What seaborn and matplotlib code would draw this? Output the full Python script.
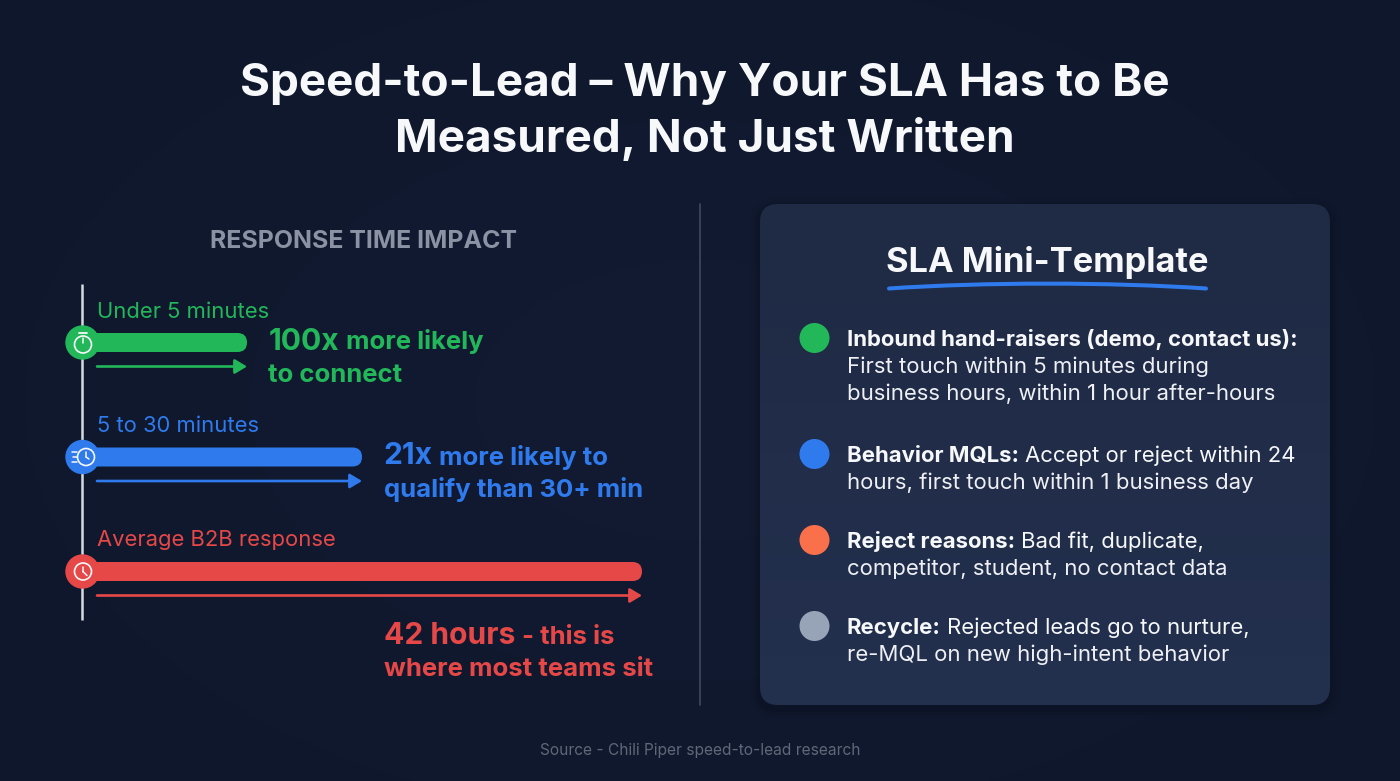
"""
Speed-to-lead infographic: response time bars and SLA mini-template card
"""

import numpy as np
import pandas as pd
import matplotlib.pyplot as plt
from matplotlib.patches import Circle, FancyBboxPatch, PathPatch
from matplotlib.path import Path
import seaborn as sns

# Data
TITLE_LINES = ['Speed-to-Lead – Why Your SLA Has to Be', 'Measured, Not Just Written']
RESPONSE_LABELS = ['Under 5 minutes', '5 to 30 minutes', 'Average B2B response']
BAR_LENGTHS = [165, 280, 560]   # schematic, the picture has no axis
BAR_COLORS = ['#22b85a', '#2f7bee', '#e64848']
HEADLINES = [
    [('100x', 30), (' more likely', 25.7)],
    [('21x', 30), (' more likely to', 25.7)],
    [('42 hours', 30), (' - this is', 25.7)],
]
SECOND_LINES = ['to connect', 'qualify than 30+ min', 'where most teams sit']
TEMPLATE_BOLD = ['Inbound hand-raisers (demo, contact us):', 'Behavior MQLs:', 'Reject reasons:', 'Recycle:']
TEMPLATE_FIRST = ['', ' Accept or reject within 24', ' Bad fit, duplicate,', ' Rejected leads go to nurture,']
TEMPLATE_MORE = [
    ['First touch within 5 minutes during', 'business hours, within 1 hour after-hours'],
    ['hours, first touch within 1 business day'],
    ['competitor, student, no contact data'],
    ['re-MQL on new high-intent behavior'],
]
TEMPLATE_COLORS = ['#22b85a', '#2f7bee', '#f9704a', '#97a3b6']

sns.set_theme(style='white')
plt.rcParams['font.family'] = ['Inter', 'DejaVu Sans']

WHITE = '#f7f8fa'
ROW_STEP = 114.5
fig = plt.figure(figsize=(14, 7.81), dpi=100)


def pixel_axes(zorder):
    """Full figure axes in image pixels, y runs downward."""
    a = fig.add_axes([0, 0, 1, 1], facecolor='none')
    a.set_xlim(0, 1400)
    a.set_ylim(781, 0)
    a.axis('off')
    a.set_zorder(zorder)
    return a


ax = pixel_axes(1)
icon_ax = pixel_axes(3)

# background with a faint glow in the middle
yy, xx = np.mgrid[0:781, 0:1400]
dist = np.sqrt(((xx - 700) / 900) ** 2 + ((yy - 400) / 560) ** 2)
glow = np.clip(1 - dist, 0, 1)[..., None]
bg = np.array([15, 23, 44]) + glow * np.array([3, 4, 6])
ax.imshow(bg / 255, extent=(0, 1400, 781, 0), aspect='auto', zorder=0)


def px(size):
    return size * 0.72


def write_runs(x, y, runs, color):
    """Draw (text, px size, weight) runs one after the other on a baseline."""
    renderer = fig.canvas.get_renderer()
    for text, size, weight in runs:
        if text.startswith(' '):
            x += size * 0.24
        t = ax.text(x, y, text.strip(), fontsize=px(size), fontweight=weight, color=color,
                    va='baseline', ha='left', zorder=6)
        x += t.get_window_extent(renderer).width + size * 0.02


# title
for line, base in zip(TITLE_LINES, [96, 152]):
    ax.text(705, base, line, fontsize=px(45.85), fontweight='bold', color=WHITE,
            ha='center', va='baseline', zorder=6)

ax.plot([700, 700], [204, 705], color='#3f4558', lw=1.3, zorder=2)

# left panel
ax.text(363, 248, 'RESPONSE TIME IMPACT', fontsize=px(24.9), fontweight='bold',
        color='#8b92a3', ha='center', va='baseline', zorder=6)
ax.plot([82, 82], [284, 620], color='#d5d9e0', lw=1.8, zorder=3, solid_capstyle='butt')

# bars get their own axes, x=0 sits on the timeline
bar_ax = fig.add_axes([82 / 1400, 1 - 686 / 781, 700 / 1400, 458 / 781], facecolor='none')
df = pd.DataFrame({'label': RESPONSE_LABELS, 'length': BAR_LENGTHS})
sns.barplot(data=df, x='length', y='label', hue='label', palette=BAR_COLORS,
            width=0.166, legend=False, saturation=1, linewidth=0, ax=bar_ax)
bar_ax.set_xlim(0, 700)
bar_ax.set_ylim(3, -1)
bar_ax.axis('off')
bar_ax.set_zorder(2)

bar_y = [342.5, 342.5 + ROW_STEP, 342.5 + 2 * ROW_STEP]
for i, bar in enumerate(bar_ax.patches):
    # round the free end of each bar by clipping it, in pixels so the cap stays circular
    w = bar.get_width()
    h_px = bar.get_height() * ROW_STEP
    cap = FancyBboxPatch((62, bar_y[i] - h_px / 2), w + 20, h_px,
                         boxstyle=f'round,pad=0,rounding_size={h_px / 2}',
                         transform=ax.transData)
    bar.set_clip_path(cap)
    arrow_y = i + 24 / ROW_STEP
    bar_ax.annotate('', xy=(w, arrow_y), xytext=(15, arrow_y),
                    arrowprops=dict(arrowstyle='-|>,head_length=0.6,head_width=0.36',
                                    color=BAR_COLORS[i], lw=1.9, shrinkA=0, shrinkB=0))

text_x = [268.5, 383.5, 383.5]
head_base = [349.5, 464.5, 644.5]
for i, label in enumerate(RESPONSE_LABELS):
    color = BAR_COLORS[i]
    ax.text(97, bar_y[i] - 25, label, fontsize=px(22), color=color, va='baseline', zorder=6)
    runs = [(t, s, 'bold') for t, s in HEADLINES[i]]
    write_runs(text_x[i], head_base[i], runs, color)
    ax.text(text_x[i], head_base[i] + 32, SECOND_LINES[i], fontsize=px(25.7), fontweight='bold',
            color=color, va='baseline', zorder=6)

    # icon: coloured disc with a small white clock
    cy = bar_y[i]
    cx_clock = 86 if i == 1 else 83
    icon_ax.add_patch(Circle((82.5, cy), 16.5, color=color, zorder=7))
    icon_ax.add_patch(Circle((cx_clock, cy + (2 if i == 0 else 0)), 8.5, fc='none', ec=WHITE, lw=1.2, zorder=8))
    icon_ax.plot([cx_clock, cx_clock], [cy - 5, cy], color=WHITE, lw=1.1, zorder=8)
    if i == 0:
        icon_ax.plot([79, 87], [cy - 10, cy - 10], color=WHITE, lw=1.3, zorder=8)
    if i == 1:
        icon_ax.plot([cx_clock, cx_clock + 3], [cy, cy + 2], color=WHITE, lw=1.1, zorder=8)
        for dy, x1 in [(-5, 72), (0, 73), (5, 72)]:
            icon_ax.plot([x1, 77], [cy + dy, cy + dy], color=WHITE, lw=1.1, zorder=8)
    if i == 2:
        icon_ax.plot([cx_clock, cx_clock + 4], [cy, cy + 4], color=WHITE, lw=1.1, zorder=8)

# right card, slightly lighter towards the bottom
for grow, alpha in [(10, 0.05), (6, 0.07), (3, 0.09)]:
    ax.add_patch(FancyBboxPatch((760 - grow, 204 - grow + 4), 570 + 2 * grow, 501 + 2 * grow,
                                boxstyle=f'round,pad=0,rounding_size={18 + grow}',
                                fc='#05080f', ec='none', alpha=alpha, zorder=3))
card = FancyBboxPatch((760, 204), 570, 501, boxstyle='round,pad=0,rounding_size=18',
                      fc='none', ec='none', zorder=4)
ax.add_patch(card)
shade = np.linspace(0, 1, 100)[:, None, None]
card_img = (np.array([31, 42, 68]) + shade * np.array([4, 6, 10])) / 255
im = ax.imshow(card_img, extent=(760, 1330, 705, 204), aspect='auto', zorder=4)
im.set_clip_path(card)
ax.set_xlim(0, 1400)
ax.set_ylim(781, 0)
ax.text(1047, 272, 'SLA Mini-Template', fontsize=px(34.4), fontweight='bold', color=WHITE,
        ha='center', va='baseline', zorder=6)
swoosh = Path([(889, 288.5), (985, 282), (1110, 282), (1206, 288.5)],
              [Path.MOVETO, Path.CURVE4, Path.CURVE4, Path.CURVE4])
ax.add_patch(PathPatch(swoosh, fc='none', ec='#2f7bee', lw=2.9, capstyle='round', zorder=6))

first_base = [346, 462, 548, 634]
for i, bold in enumerate(TEMPLATE_BOLD):
    base = first_base[i]
    ax.add_patch(Circle((814.5, base - 8), 15, fc=TEMPLATE_COLORS[i], ec='none', zorder=6))
    runs = [(bold, 22.15, 'bold')]
    if TEMPLATE_FIRST[i]:
        runs.append((TEMPLATE_FIRST[i], 22.15, 'normal'))
    write_runs(847, base, runs, WHITE)
    for j, line in enumerate(TEMPLATE_MORE[i]):
        ax.text(847, base + 27 * (j + 1), line, fontsize=px(22.15), color='#eef0f4',
                va='baseline', zorder=6)

ax.text(700, 755, 'Source - Chili Piper speed-to-lead research', fontsize=px(15.5),
        color='#5f6778', ha='center', va='baseline', zorder=6)

fig.savefig('out.png', dpi=100, facecolor='#0d1426')
